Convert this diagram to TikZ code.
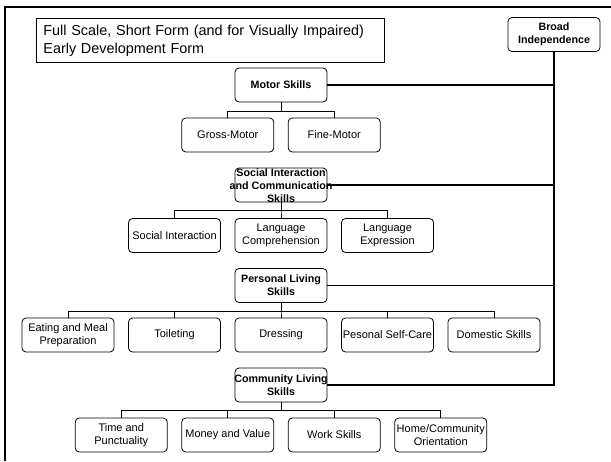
\documentclass[tikz,border=0pt]{standalone}
\usepackage{fontspec}
\setmainfont{Liberation Sans}
\usepackage{tikz}

\newcommand{\wideline}[1]{\makebox[0pt]{#1}}

\begin{document}
\begin{tikzpicture}[x=1pt,y=-1pt,
	box/.style={shape=rectangle,draw=black,rounded corners=4pt,line width=0.8pt,minimum width=92pt,minimum height=34pt,inner sep=1pt,align=center,font=\fontsize{11}{13}\selectfont},
	head/.style={box,font=\bfseries\fontsize{10.7}{13}\selectfont},
	headtext/.style={inner sep=0pt,align=center,font=\bfseries\fontsize{10.7}{13.3}\selectfont},
	titlebox/.style={shape=rectangle,draw=black,line width=0.8pt,minimum width=348pt,minimum height=44pt,text width=334pt,inner xsep=7pt,inner ysep=4pt,align=left,font=\fontsize{14.4}{18}\selectfont},
	conn/.style={draw=black,line width=1pt},
	link/.style={draw=black,line width=1.3pt},
	trunk/.style={draw=black,line width=2.4pt,line cap=rect},
	frame/.style={draw=black,line width=2.4pt}]
	
	\fill[white] (0,0) rectangle (611,461);
	\useasboundingbox (0,0) rectangle (611,461);
	\draw[frame] (5,461) -- (5,7) -- (611,7);
	
	\node[titlebox,anchor=north west] (title) at (36,18) {\mbox{Full Scale, Short Form (and for Visually Impaired)}\\Early Development Form};
	\node[head] (broad) at (554,34.5) {Broad\\Independence};
	
	\node[head] (motor)     at (281,85)    {Motor Skills};
	\node[head] (social)    at (281,185)   {};
	\node[headtext] (socialtext) at (281,185.5) {\wideline{Social Interaction}\\\wideline{and Communication}\\Skills};
	\node[head] (personal)  at (281,285.5) {Personal Living\\Skills};
	\node[head] (community) at (281,385)   {\wideline{Community Living}\\Skills};
	
	\node[box] (gross) at (227.75,135) {Gross-Motor};
	\node[box] (fine)  at (334.25,135) {Fine-Motor};
	
	\node[box] (interaction)   at (174.5,235.5) {Social Interaction};
	\node[box] (comprehension) at (281,235.5)   {Language\\Comprehension};
	\node[box] (expression)    at (387.5,235.5) {Language\\Expression};
	
	\node[box] (eating)    at (68,335)    {Eating and Meal\\Preparation};
	\node[box] (toileting) at (174.5,335) {Toileting};
	\node[box] (dressing)  at (281,335)   {Dressing};
	\node[box] (selfcare)  at (387.5,335) {\wideline{Pesonal Self-Care}};
	\node[box] (domestic)  at (494,335)   {Domestic Skills};
	
	\node[box] (time)        at (121.25,435) {Time and\\Punctuality};
	\node[box] (money)       at (227.75,435) {Money and Value};
	\node[box] (work)        at (334.25,435) {Work Skills};
	\node[box] (orientation) at (440.75,435) {\wideline{Home/Community}\\Orientation};
	
	\draw[conn] (motor.south) -- ++(0,9) -| (gross.north);
	\draw[conn] (motor.south) -- ++(0,9) -| (fine.north);
	
	\draw[conn] (social.south) -- ++(0,8.5) -| (interaction.north);
	\draw[conn] (social.south) -- ++(0,8.5) -| (comprehension.north);
	\draw[conn] (social.south) -- ++(0,8.5) -| (expression.north);
	
	\draw[conn] (personal.south) -- ++(0,9) -| (eating.north);
	\draw[conn] (personal.south) -- ++(0,9) -| (toileting.north);
	\draw[conn] (personal.south) -- ++(0,9) -| (dressing.north);
	\draw[conn] (personal.south) -- ++(0,9) -| (selfcare.north);
	\draw[conn] (personal.south) -- ++(0,9) -| (domestic.north);
	
	\draw[conn] (community.south) -- ++(0,8.5) -| (time.north);
	\draw[conn] (community.south) -- ++(0,8.5) -| (money.north);
	\draw[conn] (community.south) -- ++(0,8.5) -| (work.north);
	\draw[conn] (community.south) -- ++(0,8.5) -| (orientation.north);
	
	\draw[link] (motor.east)     -- (motor.east -| broad.south);
	\draw[link] (social.east)    -- (social.east -| broad.south);
	\draw[link] (personal.east)  -- (personal.east -| broad.south);
	\draw[link] (community.east) -- (community.east -| broad.south);
	\draw[trunk] (broad.south) -- (broad.south |- community.east);
	
\end{tikzpicture}
\end{document}
